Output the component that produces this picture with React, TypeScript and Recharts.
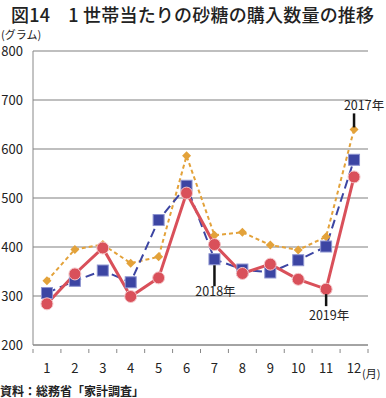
import {
  LineChart,
  Line,
  XAxis,
  YAxis,
  CartesianGrid,
} from "recharts";

const months = ["1", "2", "3", "4", "5", "6", "7", "8", "9", "10", "11", "12"];
const y2017 = [331, 395, 405, 367, 380, 586, 424, 430, 404, 394, 421, 640];
const y2018 = [306, 331, 352, 328, 455, 525, 375, 354, 348, 373, 401, 578];
const y2019 = [284, 345, 398, 299, 337, 510, 405, 346, 365, 334, 314, 543];
const yTicks = [200, 300, 400, 500, 600, 700, 800];

const data = months.map((m, i) => ({
  month: m,
  y2017: y2017[i],
  y2018: y2018[i],
  y2019: y2019[i],
}));

const RED = "#d9505a";
const BLUE = "#3c45a3";
const ORANGE = "#e3a23a";
const FONT = "'Noto Sans CJK JP', 'Noto Sans', sans-serif";

const W = 386;
const H = 398;
const XH = 30;
const margin = { top: 51, right: 18, bottom: 53 - XH, left: 0 };
const band = (W - 33 - margin.right) / months.length;

function Square(props: any) {
  const { cx, cy, index } = props;
  return (
    <rect
      key={"s" + index}
      x={cx - 5.5}
      y={cy - 5.5}
      width={11}
      height={11}
      fill={BLUE}
      stroke="#8c93d0"
      strokeWidth={1}
    />
  );
}

function Diamond(props: any) {
  const { cx, cy, index } = props;
  const r = 4.5;
  return (
    <polygon
      key={"d" + index}
      points={`${cx},${cy - r} ${cx + r},${cy} ${cx},${cy + r} ${cx - r},${cy}`}
      fill={ORANGE}
    />
  );
}

function Circle(props: any) {
  const { cx, cy, index } = props;
  return (
    <circle
      key={"c" + index}
      cx={cx}
      cy={cy}
      r={6}
      fill={RED}
      stroke="#f4c6c9"
      strokeWidth={1}
    />
  );
}

// year callouts: a short black stem plus the label
function yearLabel(at: number, text: string, y1: number, y2: number, ty: number, dx: number) {
  return (props: any) => {
    const { x, y, index } = props;
    if (index !== at) return null;
    return (
      <g key={text}>
        <line x1={x} x2={x} y1={y + y1} y2={y + y2} stroke="#111" strokeWidth={2.5} />
        <text
          x={x + dx}
          y={y + ty}
          textAnchor="middle"
          fontSize={12.5}
          fontFamily={FONT}
          fill="#222"
        >
          {text}
        </text>
      </g>
    );
  };
}

function MonthTick(props: any) {
  const { x, y, payload, index } = props;
  const left = x - band / 2;
  return (
    <g>
      <line x1={left} x2={left} y1={y - 4} y2={y} stroke="#888" />
      {index === months.length - 1 && (
        <line x1={x + band / 2} x2={x + band / 2} y1={y - 4} y2={y} stroke="#888" />
      )}
      <text x={x} y={y + 20} textAnchor="middle" fontSize={13} fontFamily={FONT} fill="#222">
        {payload.value}
      </text>
    </g>
  );
}

export default function App() {
  return (
    <div style={{ position: "absolute", left: 0, top: 0, width: W, height: H, background: "#fff", fontFamily: FONT }}>
      <div style={{ position: "absolute", left: 11, top: 5, fontSize: 18, lineHeight: 1, fontWeight: 500, color: "#222", whiteSpace: "nowrap", letterSpacing: 0.2 }}>
        図14　1 世帯当たりの砂糖の購入数量の推移
      </div>
      <div style={{ position: "absolute", left: 1, top: 29, fontSize: 11, lineHeight: 1, color: "#222", whiteSpace: "nowrap" }}>
        (グラム)
      </div>
      <LineChart width={W} height={H} data={data} margin={margin}>
        <CartesianGrid horizontal vertical={false} stroke="#aaa" strokeWidth={1.5} />
        <XAxis
          dataKey="month"
          scale="band"
          height={XH}
          axisLine={{ stroke: "#888" }}
          tickLine={false}
          tick={<MonthTick />}
          interval={0}
        />
        <YAxis
          width={33}
          domain={[200, 800]}
          ticks={yTicks}
          axisLine={{ stroke: "#888" }}
          tickLine={false}
          tickSize={0}
          tickMargin={10}
          tick={{ fontSize: 13, fill: "#222", fontFamily: FONT }}
        />
        <Line
          dataKey="y2017"
          stroke={ORANGE}
          strokeWidth={2}
          strokeDasharray="4 3"
          dot={Diamond}
          activeDot={false}
          label={yearLabel(11, "2017年", -2, -16, -19, 10)}
          isAnimationActive={false}
        />
        <Line
          dataKey="y2018"
          stroke={BLUE}
          strokeWidth={2}
          strokeDasharray="9 5"
          dot={Square}
          activeDot={false}
          label={yearLabel(6, "2018年", 6, 27, 37, 1)}
          isAnimationActive={false}
        />
        <Line
          dataKey="y2019"
          stroke={RED}
          strokeWidth={3}
          dot={Circle}
          activeDot={false}
          label={yearLabel(10, "2019年", 5, 17, 31, 3)}
          isAnimationActive={false}
        />
      </LineChart>
      <div style={{ position: "absolute", left: 362, top: 368, fontSize: 11, lineHeight: 1, color: "#222", whiteSpace: "nowrap" }}>
        (月)
      </div>
      <div style={{ position: "absolute", left: 0, top: 385, fontSize: 12, lineHeight: 1, fontWeight: 700, color: "#222", whiteSpace: "nowrap" }}>
        資料：総務省「家計調査」
      </div>
    </div>
  );
}
